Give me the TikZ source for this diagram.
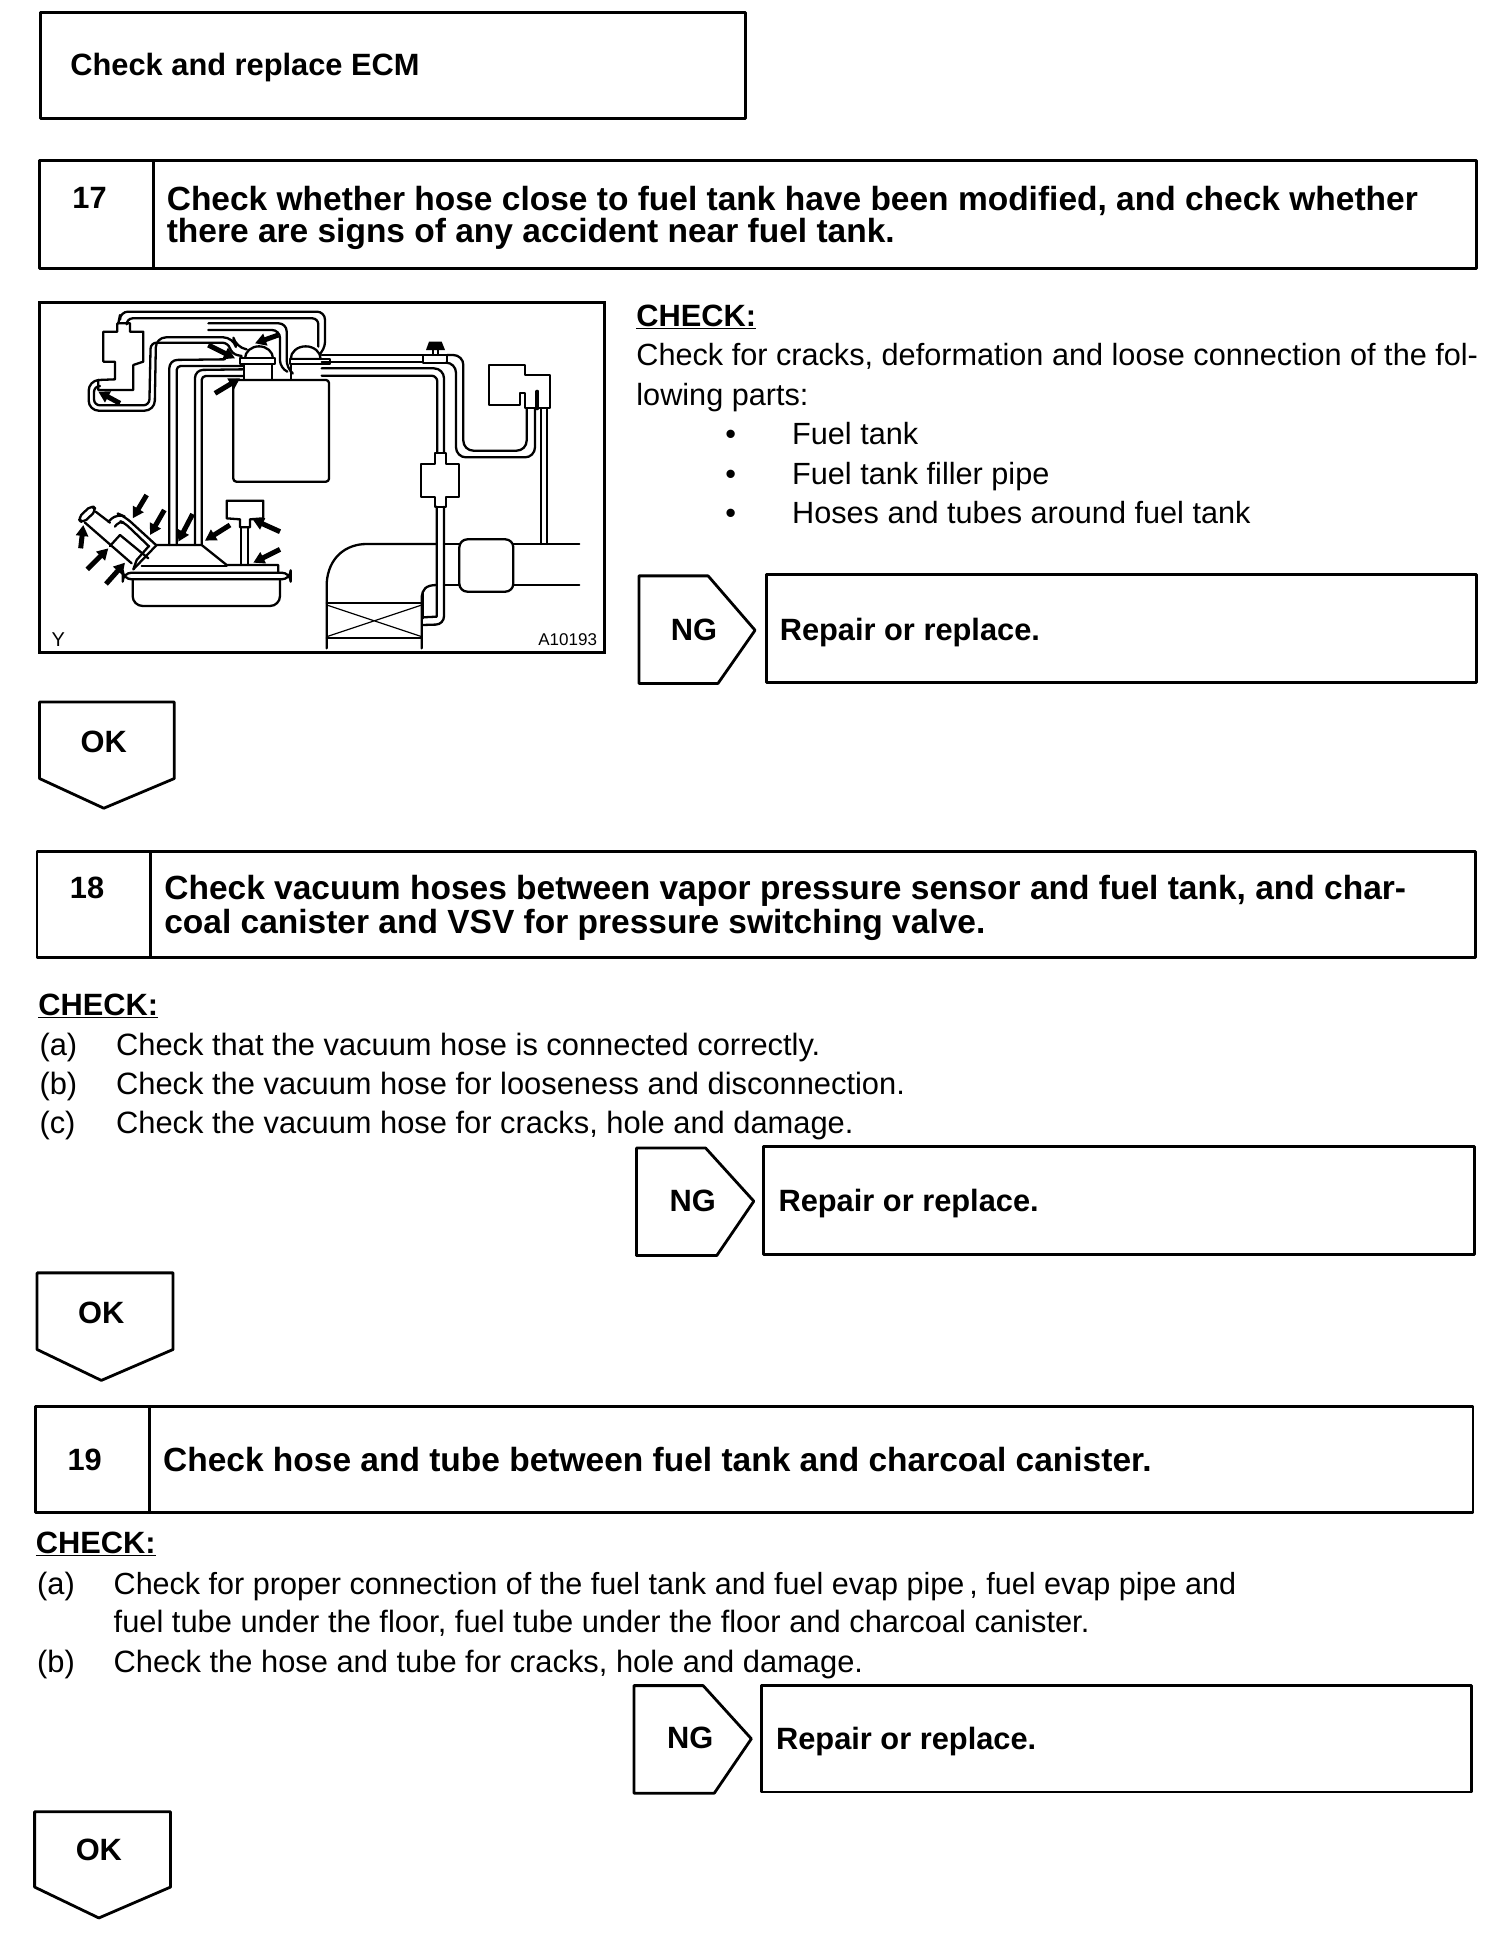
\documentclass[tikz,border=0pt]{standalone}
\usepackage{fontspec}
\setmainfont{Liberation Sans}
\usetikzlibrary{arrows.meta}
\newcommand{\bodyfont}{\fontsize{30.65}{38}\selectfont}
\newcommand{\bodyfontb}{\fontsize{30.85}{38}\selectfont}
\newcommand{\bodyfontc}{\fontsize{30.55}{38}\selectfont}
\newcommand{\headfont}{\fontsize{33.5}{33}\selectfont\bfseries}
\newcommand{\tagfont}{\fontsize{30.8}{33}\selectfont\bfseries}
\tikzset{
  frameline/.style={line width=2.8pt,line join=round},
  illus/.style={line width=2.3pt,line join=round,line cap=round},
  txt/.style={anchor=base west,inner sep=0pt,outer sep=0pt,font=\bodyfont},
  txtb/.style={anchor=base west,inner sep=0pt,outer sep=0pt,font=\bodyfontb},
  txtc/.style={anchor=base west,inner sep=0pt,outer sep=0pt,font=\bodyfontc},
  headtxt/.style={anchor=base west,inner sep=0pt,outer sep=0pt,font=\headfont},
  tagtxt/.style={anchor=center,inner sep=0pt,outer sep=0pt,font=\tagfont},
  reptxt/.style={anchor=base west,inner sep=0pt,outer sep=0pt,font=\tagfont},
  chk/.style={anchor=base west,inner sep=0pt,outer sep=0pt,font=\tagfont},
  thickarrow/.style={line width=5pt,-{Triangle[length=11pt,width=12pt]}},
}
\begin{document}
\begin{tikzpicture}[x=1pt,y=-1pt]
\useasboundingbox (0,0) rectangle (1504,1938);
\fill[white] (0,0) rectangle (1504,1938);
% ---------- page in the units of the 1217-wide view
\begin{scope}[x=1.2358pt,y=-1.2358pt]
\draw[frameline] (33,10) rectangle (603,96);
\node[reptxt] (ecm) at (57,61) {Check and replace ECM};
% 17
\draw[frameline] (32,130) rectangle (1195,217);
\draw[frameline] (124,130) -- (124,217);
\node[tagtxt] (n17) at (72.5,160.5) {17};
\node[headtxt] (h17a) at (135,170) {Check whether hose close to fuel tank have been modified, and check whether};
\node[headtxt] (h17b) at (135,196.5) {there are signs of any accident near fuel tank.};
\node[chk] (c17) at (515,264) {\underline{CHECK:}};
\node[txt] (t17a) at (515,296) {Check for cracks, deformation and loose connection of the fol-};
\node[txt] (t17b) at (515,328) {lowing parts:};
\node[txt] (b1) at (587,360) {•};
\node[txt] (b2) at (587,392) {•};
\node[txt] (b3) at (587,424) {•};
\node[txt] (t1) at (641,360) {Fuel tank};
\node[txt] (t2) at (641,392) {Fuel tank filler pipe};
\node[txt] (t3) at (641,424) {Hoses and tubes around fuel tank};
\draw[frameline] (517,466) -- (573,466) -- (611,510) -- (581,553) -- (517,553) -- cycle;
\node[tagtxt] (ng1) at (561.5,509.5) {NG};
\draw[frameline] (620,465) rectangle (1195,552);
\node[reptxt] (r1) at (631,518) {Repair or replace.};
\draw[frameline] (32,568) -- (141,568) -- (141,630) -- (84,654) -- (32,630) -- cycle;
\node[tagtxt] (ok1) at (84,600) {OK};
% 18
\draw[frameline] (30,689) rectangle (1194,775);
\draw[frameline] (122,689) -- (122,775);
\node[tagtxt] (n18) at (70.5,718.5) {18};
\node[headtxt] (h18a) at (133,728) {Check vacuum hoses between vapor pressure sensor and fuel tank, and char-};
\node[headtxt] (h18b) at (133,755) {coal canister and VSV for pressure switching valve.};
\node[chk] (c18) at (31,822) {\underline{CHECK:}};
\node[txtb] (a18) at (32,854) {(a)};
\node[txtb] (b18) at (32,886) {(b)};
\node[txtb] (d18) at (32,917) {(c)};
\node[txtb] (ta18) at (94,854) {Check that the vacuum hose is connected correctly.};
\node[txtb] (tb18) at (94,886) {Check the vacuum hose for looseness and disconnection.};
\node[txtb] (td18) at (94,917) {Check the vacuum hose for cracks, hole and damage.};
\draw[frameline] (515,929) -- (571,929) -- (610,972) -- (580,1016) -- (515,1016) -- cycle;
\node[tagtxt] (ng2) at (560.5,971.5) {NG};
\draw[frameline] (618,928) rectangle (1193,1015);
\node[reptxt] (r2) at (630,980.5) {Repair or replace.};
\draw[frameline] (30,1030) -- (140,1030) -- (140,1092) -- (82,1117) -- (30,1092) -- cycle;
\node[tagtxt] (ok2) at (82,1062) {OK};
% 19
\draw[frameline] (29,1138) rectangle (1192,1224);
\draw[frameline] (121,1138) -- (121,1224);
\node[tagtxt] (n19) at (68.5,1181.5) {19};
\node[headtxt] (h19) at (132,1191) {Check hose and tube between fuel tank and charcoal canister.};
\node[chk] (c19) at (29,1257) {\underline{CHECK:}};
\node[txtb] (a19) at (30,1290) {(a)};
\node[txtb] (b19) at (30,1353) {(b)};
\node[txtc] (ta19) at (92,1290) {Check for proper connection of the fuel tank and fuel evap pipe\,, fuel evap pipe and};
\node[txtb] (tc19) at (92,1321) {fuel tube under the floor, fuel tube under the floor and charcoal canister.};
\node[txtb] (tb19) at (92,1353) {Check the hose and tube for cracks, hole and damage.};
\draw[frameline] (513,1364) -- (569,1364) -- (608,1407) -- (578,1451) -- (513,1451) -- cycle;
\node[tagtxt] (ng3) at (558.5,1406.5) {NG};
\draw[frameline] (616,1364) rectangle (1191,1450);
\node[reptxt] (r3) at (628,1415.5) {Repair or replace.};
\draw[frameline] (28,1466) -- (138,1466) -- (138,1527) -- (80,1552) -- (28,1527) -- cycle;
\node[tagtxt] (ok3) at (80,1497) {OK};
\end{scope}
% ---------- illustration frame
\draw[line width=3pt] (39,302) rectangle (604,652);
% ---------- illustration, left part
\begin{scope}[shift={(30,290)},x=0.33333pt,y=-0.33333pt]
\begin{scope}[illus]
% component upper left
\draw (262,100) -- (300,100) -- (300,125) -- (340,125) -- (340,215) -- (310,225) -- (310,300) -- (205,300) -- (205,270) -- (255,268) -- (255,215) -- (220,215) -- (220,125) -- (262,125) -- cycle;
% hose A
\draw (265,100) -- (270,75) [rounded corners=8pt] -- (270,65) -- (885,65) -- (885,180) -- (870,192);
\draw[rounded corners=6pt] (290,100) -- (290,85) -- (865,85) -- (865,170);
% hose to second dome
\draw (535,100) [rounded corners=8pt] -- (770,100) -- (770,235) -- (782,245);
\draw (535,120) [rounded corners=8pt] -- (750,120) -- (750,235) -- (772,245);
% hose B
\draw[rounded corners=10pt] (205,270) -- (176,272) -- (176,362) -- (374,362) -- (378,142) -- (610,142) -- (618,172) -- (650,178);
\draw[rounded corners=6pt] (205,288) -- (192,288) -- (192,346) -- (358,346) -- (362,158) -- (595,158) -- (605,192) -- (635,198);
% hose C, D
\draw[rounded corners=8pt] (418,765) -- (418,210) -- (585,208);
\draw[rounded corners=4pt] (440,765) -- (440,228) -- (640,228);
\draw[rounded corners=8pt] (495,765) -- (495,240) -- (640,238);
\draw[rounded corners=4pt] (515,765) -- (515,258) -- (640,258);
% domes
\draw[fill=white] (645,205) arc[start angle=180,end angle=360,x radius=42,y radius=36] -- cycle;
\draw[fill=white] (630,205) rectangle (735,222);
\draw (642,222) -- (642,270) (725,222) -- (725,270);
\draw[fill=white] (782,207) arc[start angle=180,end angle=360,x radius=45,y radius=38] -- cycle;
\draw[fill=white] (780,207) -- (900,207) -- (900,222) -- (780,222) -- cycle;
\draw (783,222) -- (783,270);
% tank
\draw[fill=white,rounded corners=3pt] (610,270) rectangle (897,575);
% intake
\draw (310,838) -- (380,765) -- (515,765) -- (590,825) -- (745,825) -- (745,848);
\draw (335,828) -- (590,828);
\draw[rounded corners=9pt] (278,848) rectangle (782,868);
\draw[rounded corners=10pt] (308,868) -- (308,948) -- (750,948) -- (750,868);
% filler
\draw[rounded corners=5pt] (143,685) -- (185,645) -- (200,660) -- (158,700) -- cycle;
\draw (165,698) -- (305,820);
\draw (197,665) -- (240,698);
\draw (240,768) -- (270,735) -- (355,805);
\draw (355,770) -- (320,810) -- (310,838);
\draw[rounded corners=8pt] (235,695) -- (262,670) -- (285,680) -- (378,765);
\draw[rounded corners=5pt] (255,710) -- (268,692) -- (285,700) -- (358,770);
% valve
\draw (590,632) -- (700,632) -- (700,685) -- (660,688) -- (660,712) -- (630,712) -- (630,688) -- (590,685) -- cycle;
\draw (632,712) -- (632,825) (655,712) -- (655,825);
\end{scope}
% arrows
\draw[thickarrow] (745,135) -- (675,160);
\draw[thickarrow] (535,165) -- (615,205);
\draw[thickarrow] (555,310) -- (630,265);
\draw[thickarrow] (270,340) -- (205,305);
\draw[thickarrow] (350,615) -- (308,685);
\draw[thickarrow] (403,660) -- (360,735);
\draw[thickarrow] (488,672) -- (445,755);
\draw[thickarrow] (600,705) -- (525,752);
\draw[thickarrow] (750,725) -- (668,688);
\draw[thickarrow] (750,778) -- (670,818);
\draw[thickarrow] (152,775) -- (160,705);
\draw[thickarrow] (172,838) -- (235,775);
\draw[thickarrow] (228,882) -- (285,818);
\node[anchor=center,inner sep=0pt,font=\fontsize{20}{20}\selectfont] (ylab) at (85,1048) {Y};
\end{scope}
% ---------- illustration, right part
\begin{scope}[shift={(300,290)},x=0.33333pt,y=-0.33333pt]
\begin{scope}[illus]
\draw (65,195) -- (370,195) (65,215) -- (370,215);
\draw[rounded corners=10pt] (65,235) -- (432,235) -- (432,490);
\draw[rounded corners=6pt] (65,257) -- (412,257) -- (412,490);
\draw[fill=white] (368,195) rectangle (442,218);
\fill (387,155) -- (425,155) -- (435,180) -- (378,180) -- cycle;
\draw (398,180) -- (398,195) (415,180) -- (415,195);
\draw[rounded corners=10pt] (442,195) -- (490,195) -- (490,482) -- (680,482) -- (680,355);
\draw[rounded corners=10pt] (442,218) -- (468,218) -- (468,502) -- (705,502) -- (705,355);
\draw (568,225) -- (675,225) -- (675,255) -- (750,255) -- (750,355) -- (675,355) -- (675,310) -- (660,310) -- (660,345) -- (568,345) -- cycle;
\draw[line width=4pt] (712,305) -- (712,355);
\draw (722,355) -- (722,762) (742,355) -- (742,762);
\draw[fill=white] (405,490) -- (437,490) -- (437,522) -- (478,522) -- (478,622) -- (437,622) -- (437,650) -- (405,650) -- (405,622) -- (362,622) -- (362,522) -- (405,522) -- cycle;
% air duct
\draw (80,1075) -- (80,880) .. controls (85,800) and (140,762) .. (200,762) -- (410,762);
\draw (432,762) -- (478,762);
\draw (365,1075) -- (365,920) .. controls (368,900) and (375,885) .. (410,885);
\draw (432,885) -- (478,885);
\draw (368,905) -- (368,985);
\draw (410,650) -- (410,980) -- (368,982);
\draw[rounded corners=8pt] (432,650) -- (432,1003) -- (368,1005);
\draw[rounded corners=8pt] (478,748) rectangle (640,905);
\draw (640,762) -- (838,762) (640,885) -- (838,885);
\draw (80,940) -- (365,940) (80,1045) -- (365,1045);
\draw[line width=1.2pt] (80,945) -- (365,1040) (80,1040) -- (365,945);
\end{scope}
\node[anchor=center,inner sep=0pt,font=\fontsize{17}{17}\selectfont] (alab) at (803,1048) {A10193};
\end{scope}
\end{tikzpicture}
\end{document}
